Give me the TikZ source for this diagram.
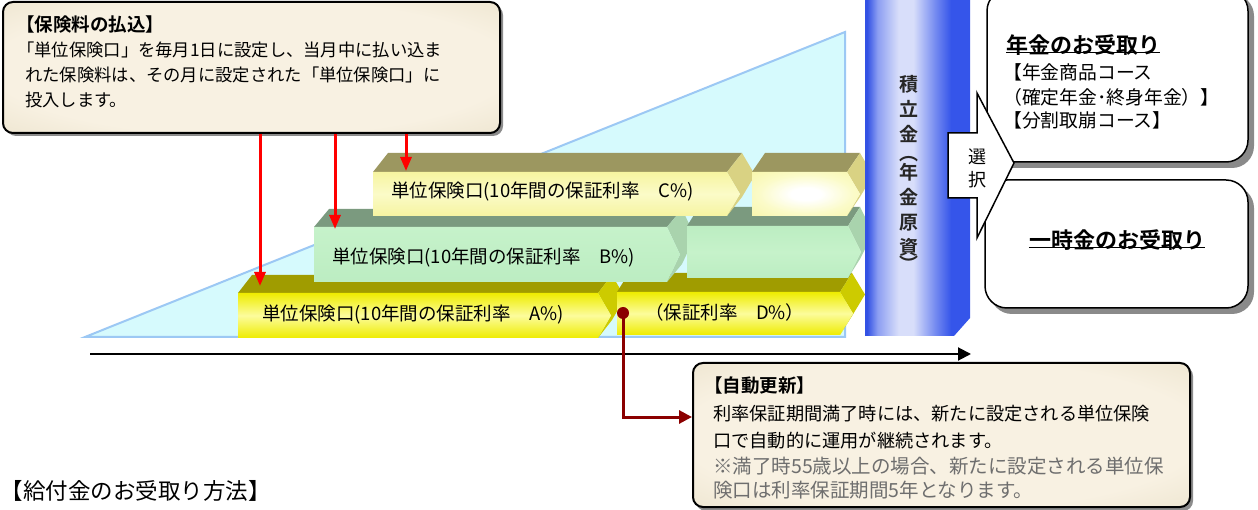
\documentclass[tikz,border=0pt]{standalone}
\usepackage{fontspec}
\setmainfont{Noto Sans CJK JP}[BoldFont={Noto Sans CJK JP Bold}]
\usetikzlibrary{arrows.meta}
\definecolor{tanL}{HTML}{F8F1E2}
\definecolor{tanM}{HTML}{E9E0C8}
\definecolor{tanD}{HTML}{CCBF9C}
\definecolor{triFill}{HTML}{D6FAFD}
\definecolor{triLine}{HTML}{9CC8F4}
\definecolor{Atop}{HTML}{A09C00}
\definecolor{Aside}{HTML}{CDCB00}
\definecolor{Ay1}{HTML}{EEEC00}
\definecolor{Ay2}{HTML}{FCFC9C}
\definecolor{Btop}{HTML}{7B9A7F}
\definecolor{Bside}{HTML}{A9D3AD}
\definecolor{Bf1}{HTML}{C6F2CA}
\definecolor{Bf2}{HTML}{BCEDC2}
\definecolor{Ctop}{HTML}{9C9760}
\definecolor{Cside}{HTML}{D9D283}
\definecolor{Cf1}{HTML}{F6F4A0}
\definecolor{Cf2}{HTML}{FBFBC8}
\definecolor{pA}{HTML}{3352E4}
\definecolor{pB}{HTML}{8C9EF2}
\definecolor{pC}{HTML}{D8DEFA}
\definecolor{pD}{HTML}{6F86F0}
\definecolor{pE}{HTML}{3555EA}
\definecolor{dred}{HTML}{8B0000}
\definecolor{notegray}{HTML}{6E6E6E}
\definecolor{shadowgray}{HTML}{8A8A8A}
\pgfdeclareradialshading{tanshade}{\pgfpoint{0bp}{0bp}}{color(0bp)=(tanL); color(26bp)=(tanL); color(42bp)=(tanM); color(54bp)=(tanD); color(75bp)=(tanD)}
\pgfdeclareradialshading{cglow}{\pgfpoint{0bp}{0bp}}{color(0bp)=(white); color(7bp)=(white); color(22bp)=(Cf2); color(42bp)=(Cf1); color(75bp)=(Cf1)}
\pgfdeclarehorizontalshading{pillarshade}{100bp}{color(0bp)=(pA); color(26bp)=(pA); color(31bp)=(pB); color(41bp)=(pC); color(48bp)=(pC); color(59bp)=(pD); color(66bp)=(pE); color(100bp)=(pE)}
\newcommand\tribar[9]{%
  \fill[#7] (#1,#3) -- ({#1+#5},{#3+#6}) -- ({#2+#5},{#3+#6}) -- (#2,#3) -- cycle;
  \fill[#8] (#2,#3) -- ({#2+#5},{#3+#6}) -- ({#2+13+#5},{(#3+#4)/2+#6}) -- ({#2+#5},{#4+#6}) -- (#2,#4) -- ({#2+13},{(#3+#4)/2}) -- cycle;
  \path[#9] (#1,#3) -- (#2,#3) -- ({#2+13},{(#3+#4)/2}) -- (#2,#4) -- (#1,#4) -- cycle;
}
\tikzset{
  tanbox/.style={draw=black, line width=2pt, rounded corners=10pt, shade, shading=tanshade},
  whitebox/.style={draw=black, line width=1.5pt, rounded corners=22pt, fill=white},
  shadowbox/.style={fill=shadowgray, rounded corners=22pt},
  bodytxt/.style={anchor=west, inner sep=0pt, font=\fontsize{17.3}{25}\selectfont},
  titletxt/.style={anchor=west, inner sep=0pt, font=\fontsize{18.5}{25}\selectfont\bfseries},
  bartxt/.style={anchor=west, inner sep=0pt, font=\fontsize{18.5}{22}\selectfont},
  headtxt/.style={inner sep=0pt, font=\fontsize{22}{24}\selectfont\bfseries},
  redarrow/.style={draw=red, line width=3pt, -{Triangle[length=14pt,width=11pt]}},
}
\begin{document}
\begin{tikzpicture}[x=1pt,y=-1pt]
\useasboundingbox[fill=white] (0,0) rectangle (1258,510);
% background triangle
\path[fill=triFill, draw=triLine, line width=2pt] (85,337) -- (845,32) -- (845,337) -- cycle;
% bars (back to front)
\tribar{238}{598}{293}{338}{14}{-18}{Atop}{Aside}{shade, top color=Ay1, bottom color=Ay1, middle color=Ay2}
\tribar{617}{840}{292}{335}{12}{-19}{Atop}{Aside}{shade, top color=Ay1, bottom color=Ay1, middle color=Ay2}
\tribar{314}{667}{227}{282}{15}{-18}{Btop}{Bside}{shade, top color=Bf1, bottom color=Bf2}
\tribar{687}{848}{226}{278}{12}{-19}{Btop}{Bside}{shade, top color=Bf2, bottom color=Bf2, middle color=Bf1}
\tribar{373}{727}{172}{216}{15}{-19}{Ctop}{Cside}{shade, top color=Cf1, bottom color=Cf1, middle color=Cf2}
\tribar{752}{847}{172}{216}{13}{-19}{Ctop}{Cside}{shade, shading=cglow}
% pillar
\path[shade, shading=pillarshade] (865,-2) -- (970,-2) -- (970,318) -- (954,336) -- (865,336) -- cycle;
\node[anchor=north, align=center, inner sep=0pt, text=black!85, font=\fontsize{19}{25}\selectfont\bfseries] (pillartxt) at (909,75)
  {積\\立\\金\\[-6pt]︵\\[-6pt]年\\金\\原\\資\\[-8pt]︶};
% bar labels
\node[bartxt] (barA) at (262,315) {単位保険口(10年間の保証利率　A\%)};
\node[bartxt] (barB) at (332,258) {単位保険口(10年間の保証利率　B\%)};
\node[bartxt] (barC) at (391,192) {単位保険口(10年間の保証利率　C\%)};
\node[bartxt] (barD) at (645,312) {（保証利率　D\%）};
% top-left box
\path[fill=black!45, rounded corners=10pt] (6,5) rectangle (503,136);
\path[tanbox] (3,2) rectangle (500,133);
\node[titletxt] (paytitle) at (16,25) {【保険料の払込】};
\node[bodytxt] (pay1) at (17,50) {「単位保険口」を毎月1日に設定し、当月中に払い込ま};
\node[bodytxt] (pay2) at (25,75) {れた保険料は、その月に設定された「単位保険口」に};
\node[bodytxt] (pay3) at (25,100) {投入します。};
% red arrows
\coordinate (r1s) at (260,134); \coordinate (r1e) at (260,286);
\coordinate (r2s) at (335,134); \coordinate (r2e) at (335,229);
\coordinate (r3s) at (406,134); \coordinate (r3e) at (406,171);
\draw[redarrow] (r1s) -- (r1e);
\draw[redarrow] (r2s) -- (r2e);
\draw[redarrow] (r3s) -- (r3e);
% right boxes
\path[shadowbox] (992,-6) rectangle (1254,168);
\path[whitebox] (987,-11) rectangle (1248,162);
\path[shadowbox] (990,186) rectangle (1254,314);
\path[whitebox] (985,180) rectangle (1248,308);
\node[headtxt, anchor=west] (nenkin) at (1006,45) {年金のお受取り};
\draw[line width=1pt] ([yshift=3pt]nenkin.south west) -- ([yshift=3pt]nenkin.south east);
\node[bodytxt, font=\fontsize{18.8}{25}\selectfont] (nk1) at (1003,72) {【年金商品コース};
\node[bodytxt, font=\fontsize{18.8}{25}\selectfont] (nk2) at (1003,97) {（確定年金･終身年金）】};
\node[bodytxt, font=\fontsize{18.8}{25}\selectfont] (nk3) at (1003,120) {【分割取崩コース】};
\node[headtxt] (ichiji) at (1117,240) {一時金のお受取り};
\draw[line width=1pt] ([yshift=3pt]ichiji.south west) -- ([yshift=3pt]ichiji.south east);
% select arrow
\path[fill=white, draw=black, line width=1.5pt, line join=miter] (948,133) -- (977,133) -- (977,93) -- (1014,163) -- (977,238) -- (977,198) -- (948,198) -- cycle;
\node[anchor=center, align=center, inner sep=0pt, font=\fontsize{18}{23}\selectfont] (sentaku) at (977,168) {選\\択};
% timeline
\coordinate (tl0) at (90,354); \coordinate (tl1) at (971,354);
\draw[line width=2pt, -{Triangle[length=13pt,width=13pt]}] (tl0) -- (tl1);
% auto-renew box
\path[fill=black!45, rounded corners=10pt] (696,366) rectangle (1193,511);
\path[tanbox] (693,363) rectangle (1190,507);
\node[titletxt] (autotitle) at (704,386) {【自動更新】};
\node[bodytxt, font=\fontsize{18.2}{25}\selectfont] (au1) at (713,414) {利率保証期間満了時には、新たに設定される単位保険};
\node[bodytxt, font=\fontsize{18.2}{25}\selectfont] (au2) at (713,441) {口で自動的に運用が継続されます。};
\node[bodytxt, text=notegray, font=\fontsize{19.5}{25}\selectfont] (au3) at (713,466) {※満了時55歳以上の場合、新たに設定される単位保};
\node[bodytxt, text=notegray, font=\fontsize{19.5}{25}\selectfont] (au4) at (713,490) {険口は利率保証期間5年となります。};
% dark red connector
\coordinate (dot) at (623,313);
\coordinate (autoin) at (692,417);
\fill[dred] (dot) circle (6pt);
\draw[dred, line width=3pt, -{Triangle[length=13pt,width=13pt]}] (dot) |- (autoin);
% bottom-left heading
\node[anchor=west, inner sep=0pt, font=\fontsize{22.5}{25}\selectfont] (howto) at (0.5,491) {【給付金のお受取り方法】};
\end{tikzpicture}
\end{document}
